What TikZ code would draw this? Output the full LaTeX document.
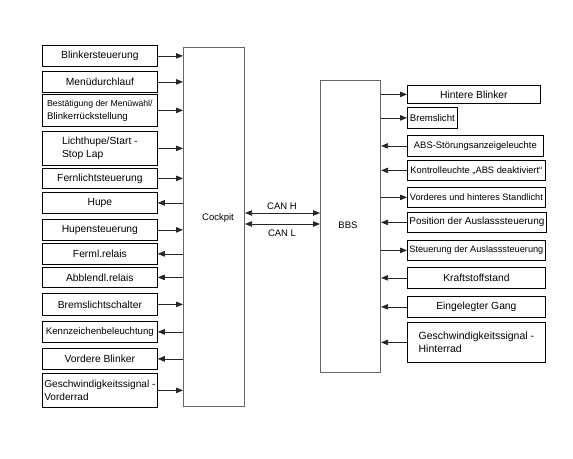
\documentclass[tikz,border=0pt]{standalone}
\usepackage{fontspec}
\setmainfont{Liberation Sans}
\usetikzlibrary{arrows.meta}
\newcommand\fsz[1]{\fontsize{#1}{#1}\selectfont}
\begin{document}
\begin{tikzpicture}[x=1pt,y=-1pt,
  sbox/.style={draw=black, line width=0.75pt, inner xsep=2pt, inner ysep=0pt, anchor=north west, align=center, font=\fontsize{10.3}{12.5}\selectfont},
  bigbox/.style={draw=black!60, line width=1.1pt, anchor=north west, inner sep=0pt},
  conn/.style={draw=black!85, line width=0.75pt},
  tip/.style={-{Triangle[length=7pt,width=5.5pt]}},
  lbl/.style={font=\fontsize{9.5}{10}\selectfont}]
\useasboundingbox (0,0) rectangle (573,458);
% big boxes
\node[bigbox, minimum width=61pt, minimum height=359pt] (ck) at (183,47) {};
\node[lbl] at (218,218) {Cockpit};
\node[bigbox, minimum width=60pt, minimum height=292pt] (bbs) at (320,80) {};
\node[lbl] at (348,225) {BBS};
% left boxes
\node[sbox, minimum width=115pt, minimum height=21pt] (l1) at (42,45) {Blinkersteuerung};
\node[sbox, minimum width=115pt, minimum height=21pt] (l2) at (42,71) {Menüdurchlauf};
\node[sbox, minimum width=115pt, minimum height=32pt, inner xsep=1.5pt, align=left, font=\fontsize{8.7}{13}\selectfont] (l3) at (42,94) {Bestätigung der Menüwahl/\\{\fsz{9.6}Blinkerrückstellung}};
\node[sbox, minimum width=115pt, minimum height=34pt, align=left] (l4) at (42,131) {Lichthupe/Start -\\Stop Lap};
\node[sbox, minimum width=115pt, minimum height=20pt] (l5) at (42,168) {Fernlichtsteuerung};
\node[sbox, minimum width=115pt, minimum height=21pt] (l6) at (42,192) {Hupe};
\node[sbox, minimum width=115pt, minimum height=21pt] (l7) at (42,219) {Hupensteuerung};
\node[sbox, minimum width=115pt, minimum height=21pt] (l8) at (42,243) {Ferml.relais};
\node[sbox, minimum width=115pt, minimum height=20pt] (l9) at (42,267) {Abblendl.relais};
\node[sbox, minimum width=115pt, minimum height=22pt] (l10) at (42,293) {Bremslichtschalter};
\node[sbox, minimum width=115pt, minimum height=21pt, inner xsep=1pt, font=\fsz{9.6}] (l11) at (42,321) {Kennzeichenbeleuchtung};
\node[sbox, minimum width=115pt, minimum height=21pt] (l12) at (42,348) {Vordere Blinker};
\node[sbox, minimum width=115pt, minimum height=34pt, inner xsep=1pt, align=left, font=\fontsize{10.1}{12.5}\selectfont] (l13) at (42,373) {Geschwindigkeitssignal -\\Vorderrad};
% left connectors
\foreach \n in {l1,l2,l3,l4,l5,l7,l10,l13}
  \draw[conn,tip] (\n.east) -- (\n.east -| ck.west);
\foreach \n in {l6,l8,l9,l11,l12}
  \draw[conn,tip] (\n.east -| ck.west) -- (\n.east);
% right boxes
\node[sbox, minimum width=133pt, minimum height=18pt] (r1) at (407,85) {Hintere Blinker};
\node[sbox, minimum width=50pt, minimum height=21pt, inner xsep=1pt, font=\fsz{9.6}] (r2) at (407,107) {Bremslicht};
\node[sbox, minimum width=136pt, minimum height=21pt, inner xsep=1pt, font=\fsz{9.4}] (r3) at (407,135) {ABS-Störungsanzeigeleuchte};
\node[sbox, minimum width=138pt, minimum height=20pt, inner xsep=1pt, font=\fsz{9.3}] (r4) at (407,160) {Kontrolleuchte „ABS deaktiviert“};
\node[sbox, minimum width=138pt, minimum height=20pt, inner xsep=1pt, font=\fsz{9.2}] (r5) at (407,187) {Vorderes und hinteres Standlicht};
\node[sbox, minimum width=137pt, minimum height=20pt, font=\fsz{10}] (r6) at (407,212) {Position der Auslasssteuerung};
\node[sbox, minimum width=138pt, minimum height=20pt, inner xsep=1pt, font=\fsz{9.2}] (r7) at (407,240) {Steuerung der Auslasssteuerung};
\node[sbox, minimum width=138pt, minimum height=21pt] (r8) at (407,267) {Kraftstoffstand};
\node[sbox, minimum width=138pt, minimum height=21pt] (r9) at (407,296) {Eingelegter Gang};
\node[sbox, minimum width=138pt, minimum height=40pt, align=left, font=\fontsize{10.5}{13}\selectfont] (r10) at (407,322) {Geschwindigkeitssignal -\\Hinterrad};
% right connectors
\foreach \n in {r1,r2,r5,r7}
  \draw[conn,tip] (\n.west -| bbs.east) -- (\n.west);
\foreach \n in {r3,r4,r6,r8,r9,r10}
  \draw[conn,tip] (\n.west) -- (\n.west -| bbs.east);
% CAN bus
\coordinate (canh) at (0,213);
\coordinate (canl) at (0,224);
\draw[conn,{Triangle[length=7pt,width=5.5pt]}-{Triangle[length=7pt,width=5.5pt]}] (canh -| ck.east) -- (canh -| bbs.west);
\draw[conn,{Triangle[length=7pt,width=5.5pt]}-{Triangle[length=7pt,width=5.5pt]}] (canl -| ck.east) -- (canl -| bbs.west);
\node[lbl] at (282,206) {CAN H};
\node[lbl] at (282,233) {CAN L};
\end{tikzpicture}
\end{document}
